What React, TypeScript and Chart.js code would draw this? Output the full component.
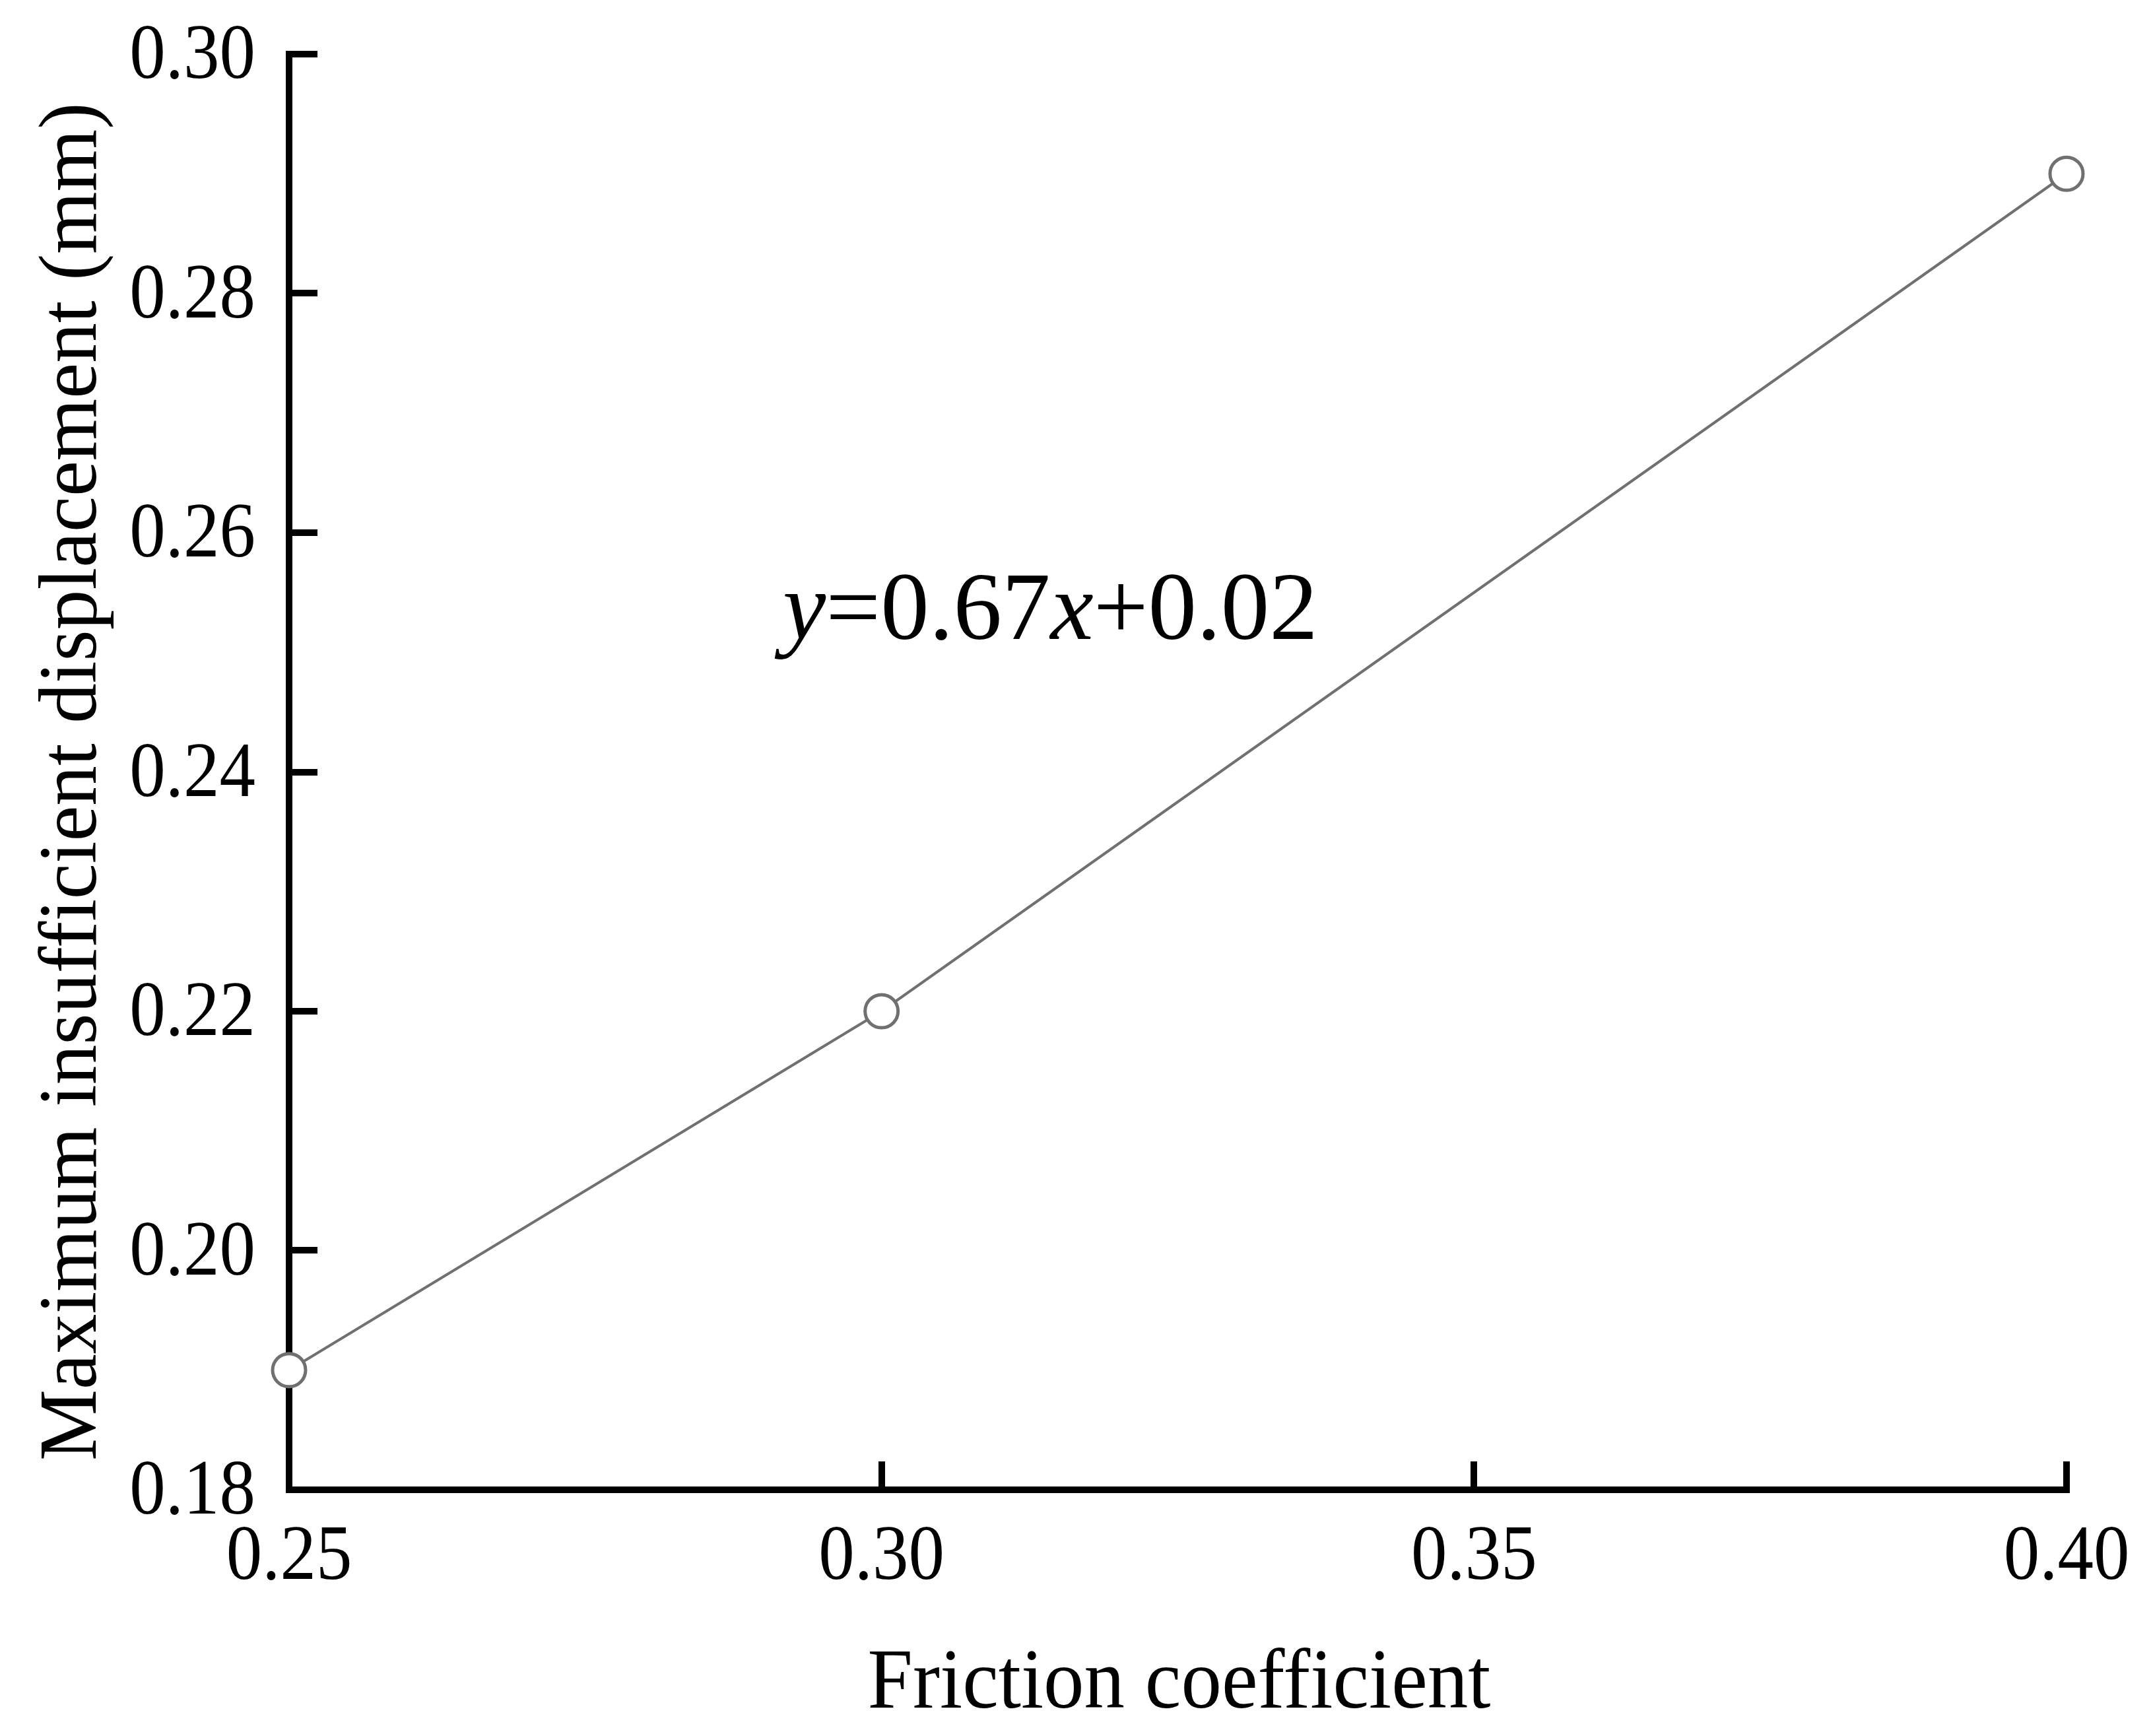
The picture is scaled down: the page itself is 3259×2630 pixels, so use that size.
import React, { useEffect, useRef } from "react";
import { Chart, registerables } from "chart.js";

Chart.register(...registerables);

const frictionCoefficients = [0.25, 0.3, 0.4];
const maxDisplacement = [0.19, 0.22, 0.29];
const xTicks = [0.25, 0.3, 0.35, 0.4];
const yTicks = [0.18, 0.2, 0.22, 0.24, 0.26, 0.28, 0.3];
const xTitle = "Friction coefficient";
const yTitle = "Maximum insufficient displacement (mm)";
const equationParts = [
  { text: "y", italic: true },
  { text: "=0.67", italic: false },
  { text: "x", italic: true },
  { text: "+0.02", italic: false },
];

const W = 3259;
const H = 2630;
const FONT = "'Liberation Serif', 'Times New Roman', serif";
const TICK_SIZE = 109;
const TICK_SY = 1.08;
const TITLE_SIZE = 123;
const EQ_SIZE = 147;
const LINE_COLOR = "#707070";

function drawText(
  ctx: CanvasRenderingContext2D,
  text: string,
  x: number,
  y: number,
  font: string,
  align: CanvasTextAlign,
  sx: number,
  sy: number,
  rot = 0
) {
  ctx.save();
  ctx.translate(x, y);
  if (rot) ctx.rotate(rot);
  ctx.scale(sx, sy);
  ctx.font = font;
  ctx.textAlign = align;
  ctx.textBaseline = "alphabetic";
  ctx.fillStyle = "#000";
  ctx.fillText(text, 0, 0);
  ctx.restore();
}

const textPlugin = {
  id: "textPlugin",
  afterDraw(chart: any) {
    const { ctx, chartArea, scales } = chart;
    const xs = scales.x;
    const ys = scales.y;
    const tickFont = `${TICK_SIZE}px ${FONT}`;
    for (const v of yTicks) {
      const py = ys.getPixelForValue(v);
      drawText(ctx, v.toFixed(2), chartArea.left - 51, py + 36, tickFont, "right", 1, TICK_SY);
    }
    for (const v of xTicks) {
      const px = xs.getPixelForValue(v);
      drawText(ctx, v.toFixed(2), px, chartArea.bottom + 135, tickFont, "center", 1, TICK_SY);
    }
    const titleFont = `${TITLE_SIZE}px ${FONT}`;
    drawText(ctx, xTitle, (chartArea.left + chartArea.right) / 2 + 2, chartArea.bottom + 330, titleFont, "center", 1, 1.045);
    drawText(ctx, yTitle, 145, chartArea.bottom - 44, `122px ${FONT}`, "left", 0.995, 1.02, -Math.PI / 2);
    let x = chartArea.left + 748;
    const y = chartArea.top + 886;
    ctx.save();
    ctx.fillStyle = "#000";
    ctx.textBaseline = "alphabetic";
    ctx.textAlign = "left";
    for (const p of equationParts) {
      ctx.font = `${p.italic ? "italic " : ""}${EQ_SIZE}px ${FONT}`;
      ctx.fillText(p.text, x, y);
      x += ctx.measureText(p.text).width;
    }
    ctx.restore();
  },
};

export default function App() {
  const ref = useRef<HTMLCanvasElement>(null);
  useEffect(() => {
    if (!ref.current) return;
    const axisCommon = {
      border: { display: true, color: "#000", width: 10 },
      grid: {
        drawOnChartArea: false,
        drawTicks: true,
        tickLength: -43,
        tickWidth: 10,
        tickColor: "#000",
        color: "#000",
        lineWidth: 10,
      },
    };
    const chart = new Chart(ref.current, {
      type: "line",
      data: {
        datasets: [
          {
            data: frictionCoefficients.map((x, i) => ({ x, y: maxDisplacement[i] })),
            borderColor: LINE_COLOR,
            borderWidth: 4,
            pointRadius: 25,
            pointBorderWidth: 5,
            pointBackgroundColor: "#ffffff",
            pointBorderColor: LINE_COLOR,
            tension: 0,
            clip: false as any,
          },
        ],
      },
      options: {
        animation: false,
        responsive: false,
        events: [],
        layout: { padding: { left: 0, top: 82, right: W - 3131, bottom: 0 } },
        plugins: { legend: { display: false }, tooltip: { enabled: false } },
        scales: {
          x: {
            type: "linear",
            min: 0.25,
            max: 0.4,
            afterBuildTicks: (s: any) => {
              s.ticks = xTicks.map((v) => ({ value: v }));
            },
            afterFit: (s: any) => {
              s.height = H - 2257;
            },
            ...axisCommon,
            ticks: { display: false },
            title: { display: false, text: xTitle },
          },
          y: {
            type: "linear",
            min: 0.18,
            max: 0.3,
            afterBuildTicks: (s: any) => {
              s.ticks = yTicks.map((v) => ({ value: v }));
            },
            afterFit: (s: any) => {
              s.width = 438;
            },
            ...axisCommon,
            ticks: { display: false },
            title: { display: false, text: yTitle },
          },
        },
      },
      plugins: [textPlugin],
    });
    return () => chart.destroy();
  }, []);
  return (
    <div style={{ position: "absolute", left: 0, top: 0, width: W, height: H, background: "#fff" }}>
      <canvas ref={ref} width={W} height={H} style={{ display: "block", width: W, height: H }} />
    </div>
  );
}
